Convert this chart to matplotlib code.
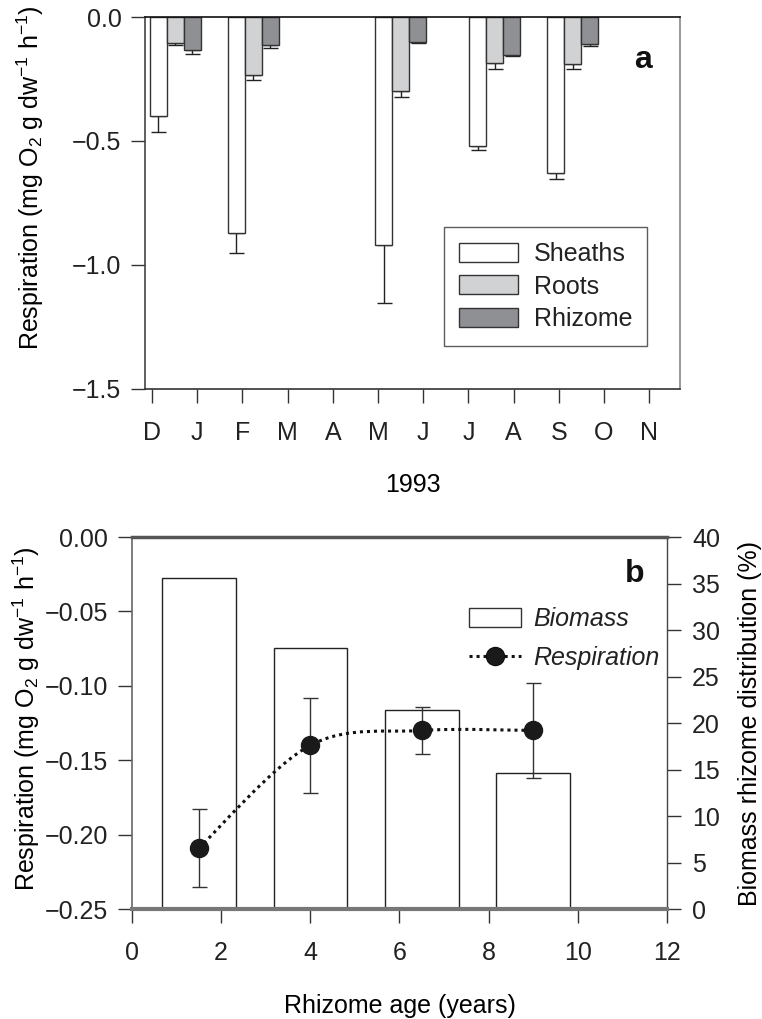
import numpy as np
import matplotlib
matplotlib.use("Agg")
from matplotlib import pyplot as plt
from matplotlib.path import Path
from matplotlib.patches import PathPatch, Patch
from matplotlib.lines import Line2D

plt.rcParams['font.family'] = ['Liberation Sans', 'DejaVu Sans']
plt.rcParams['font.size'] = 18
plt.rcParams['mathtext.fontset'] = 'custom'
plt.rcParams['mathtext.rm'] = 'Liberation Sans'
plt.rcParams['mathtext.it'] = 'Liberation Sans:italic'
plt.rcParams['text.color'] = '#222222'
plt.rcParams['xtick.color'] = '#333333'
plt.rcParams['ytick.color'] = '#333333'
plt.rcParams['xtick.labelcolor'] = '#222222'
plt.rcParams['ytick.labelcolor'] = '#222222'

# panel a : monthly respiration of plant parts (1993)
months = ['D', 'J', 'F', 'M', 'A', 'M', 'J', 'J', 'A', 'S', 'O', 'N']
sample_pos = [0.51, 2.24, 5.50, 7.58, 9.31]   # sampling dates, months after 1 Dec
sheaths = [-0.40, -0.87, -0.92, -0.52, -0.63]
sheaths_err = [0.065, 0.08, 0.235, 0.016, 0.024]
roots = [-0.105, -0.234, -0.298, -0.185, -0.19]
roots_err = [0.008, 0.02, 0.025, 0.025, 0.02]
rhizome = [-0.133, -0.113, -0.10, -0.153, -0.109]
rhizome_err = [0.016, 0.012, 0.003, 0.003, 0.008]

# panel b : rhizome age
age = [1.5, 4, 6.5, 9]
biomass = [35.6, 28.1, 21.4, 14.6]
resp = [-0.209, -0.14, -0.13, -0.13]
resp_err = [0.026, 0.032, 0.016, 0.032]

fig = plt.figure(figsize=(7.62, 10.19), dpi=100)
ax_a = fig.add_axes([0.1903, 0.6183, 0.7021, 0.3650])
ax_b = fig.add_axes([0.1732, 0.1079, 0.7021, 0.3651])

tick_len = 10

# ---------------- panel a ----------------
w = 0.376
x = np.array(sample_pos)
zeros = np.zeros(len(x))
parts = [(sheaths, sheaths_err, 'white', 'Sheaths', -w),
         (roots, roots_err, '#d1d2d4', 'Roots', 0),
         (rhizome, rhizome_err, '#8f9094', 'Rhizome', w)]
for vals, err, col, lab, off in parts:
    ax_a.bar(x + off, vals, w, color=col, edgecolor='#333333', linewidth=1.0,
             label=lab, zorder=2)
    ax_a.errorbar(x + off, vals, yerr=[err, zeros], fmt='none', ecolor='#222222',
                  elinewidth=1.0, capsize=5.4, capthick=1.0, zorder=1)

ax_a.set_xlim(-0.155, 11.68)
ax_a.set_ylim(-1.5, 0)
ax_a.set_xticks(range(len(months)))
ax_a.set_xticklabels(months)
ax_a.set_yticks([-1.5, -1.0, -0.5, 0.0])
ax_a.tick_params(axis='x', direction='out', length=tick_len, width=1, pad=13)
ax_a.tick_params(axis='y', direction='out', length=tick_len, width=1, pad=7)
ax_a.set_xlabel('1993', labelpad=20)
ax_a.set_ylabel('Respiration (mg O$_2$ g dw$^{-1}$ h$^{-1}$)', va='center')
ax_a.yaxis.set_label_coords(-0.215, 0.567)
ax_a.spines['top'].set_color('#111111')
ax_a.spines['right'].set_color('#888888')
ax_a.spines['left'].set_color('#444444')
ax_a.spines['bottom'].set_color('#333333')
for s in ax_a.spines.values():
    s.set_linewidth(1.2)

leg = ax_a.legend(loc='lower left', bbox_to_anchor=(0.559, 0.116), fancybox=False,
                  edgecolor='#333333', handlelength=2.35, handleheight=0.8,
                  labelspacing=0.33, handletextpad=0.64, borderpad=0.6,
                  borderaxespad=0, fontsize=18)
leg.get_frame().set_linewidth(1.0)
ax_a.text(0.931, 0.884, 'a', transform=ax_a.transAxes, fontsize=23,
          fontweight='bold', ha='center', va='center', color='#111111')

# ---------------- panel b ----------------
ax_r = ax_b.twinx()
ax_r.bar(age, biomass, 1.65, color='white', edgecolor='#222222', linewidth=1.0)
ax_b.set_zorder(ax_r.get_zorder() + 1)
ax_b.patch.set_visible(False)

# smooth dotted curve through the respiration points (Catmull-Rom bezier)
pts = np.column_stack([age, resp])
verts = [tuple(pts[0])]
codes = [Path.MOVETO]
n = len(pts)
for i in range(n - 1):
    p_prev = pts[i - 1] if i > 0 else pts[i]
    p_next2 = pts[i + 2] if i + 2 < n else pts[i + 1]
    c1 = pts[i] + (pts[i + 1] - p_prev) / 6
    c2 = pts[i + 1] - (p_next2 - pts[i]) / 6
    verts += [tuple(c1), tuple(c2), tuple(pts[i + 1])]
    codes += [Path.CURVE4] * 3
curve = PathPatch(Path(verts, codes), facecolor='none', edgecolor='#111111',
                  lw=2.2, linestyle=(0, (1, 1.3)))
ax_b.add_patch(curve)
ax_b.errorbar(age, resp, yerr=resp_err, fmt='o', color='#1a1a1a', ms=13,
              ecolor='#333333', elinewidth=1.0, capsize=5.4, capthick=1.0)

ax_b.set_xlim(0, 12)
ax_b.set_ylim(-0.25, 0)
ax_r.set_ylim(0, 40)
ax_b.set_xticks(range(0, 13, 2))
ax_b.set_yticks(np.arange(-0.25, 0.001, 0.05))
ax_r.set_yticks(range(0, 41, 5))
ax_b.tick_params(axis='x', direction='out', length=tick_len, width=1, pad=13)
ax_b.tick_params(axis='y', direction='out', length=tick_len, width=1, pad=7)
ax_r.tick_params(axis='y', direction='out', length=tick_len, width=1, pad=8)
ax_b.set_xlabel('Rhizome age (years)', labelpad=21)
ax_b.set_ylabel('Respiration (mg O$_2$ g dw$^{-1}$ h$^{-1}$)', va='center')
ax_b.yaxis.set_label_coords(-0.198, 0.511)
ax_r.set_ylabel('Biomass rhizome distribution (%)', rotation=90, va='center')
ax_r.yaxis.set_label_coords(1.155, 0.5)

for s in ax_r.spines.values():
    s.set_visible(False)
ax_r.spines['right'].set_visible(True)
ax_r.spines['right'].set_color('#444444')
ax_r.spines['right'].set_linewidth(1.0)
ax_b.spines['right'].set_visible(False)
ax_b.spines['top'].set_color('#555555')
ax_b.spines['top'].set_linewidth(2.5)
ax_b.spines['bottom'].set_color('#777777')
ax_b.spines['bottom'].set_linewidth(3.0)
ax_b.spines['left'].set_color('#666666')
ax_b.spines['left'].set_linewidth(1.2)

handles = [Patch(facecolor='white', edgecolor='#333333', linewidth=1.0),
           Line2D([], [], color='#111111', linestyle=(0, (1, 1.3)), lw=2.2,
                  marker='o', ms=13, markerfacecolor='#1a1a1a')]
ax_b.legend(handles, ['Biomass', 'Respiration'], loc='upper left',
            bbox_to_anchor=(0.63, 0.812), frameon=False, borderpad=0,
            borderaxespad=0, handlelength=2.08, handleheight=0.8,
            handletextpad=0.48, labelspacing=0.6, prop={'style': 'italic', 'size': 18})
ax_b.text(0.94, 0.90, 'b', transform=ax_b.transAxes, fontsize=23,
          fontweight='bold', ha='center', va='center', color='#111111')

fig.savefig('out.png', dpi=100)
